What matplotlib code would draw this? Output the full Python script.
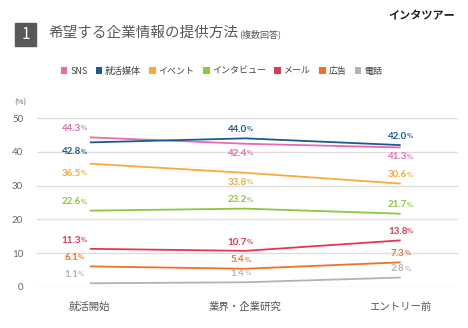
import matplotlib.pyplot as plt
from matplotlib.patches import Patch, Rectangle

plt.rcParams['font.family'] = ['Noto Sans CJK JP', 'DejaVu Sans']

stages = ["就活開始", "業界・企業研究", "エントリー前"]
series_names = ["SNS", "就活媒体", "イベント", "インタビュー", "メール", "広告", "電話"]
sns_vals = [44.3, 42.4, 41.3]
media_vals = [42.8, 44.0, 42.0]
event_vals = [36.5, 33.8, 30.6]
interview_vals = [22.6, 23.2, 21.7]
mail_vals = [11.3, 10.7, 13.8]
ad_vals = [6.1, 5.4, 7.3]
phone_vals = [1.1, 1.4, 2.8]
yticks = [0, 10, 20, 30, 40, 50]

all_vals = [sns_vals, media_vals, event_vals, interview_vals, mail_vals, ad_vals, phone_vals]
colors = ["#ec6aab", "#1b5a94", "#f6aa3c", "#8dc641", "#e83450", "#f07127", "#b3b3b3"]
# label above (1) or below (-1) the point
placement = [
    [1, -1, -1],
    [-1, 1, 1],
    [-1, -1, 1],
    [1, 1, 1],
    [1, 1, 1],
    [1, 1, 1],
    [1, 1, 1],
]
x_shift = [-0.09, -0.02, 0.01]

fig = plt.figure(figsize=(4.68, 3.28), dpi=100)
ax = fig.add_axes([0.079, 0.125, 0.9, 0.515])

for vals, c, pl in zip(all_vals, colors, placement):
    ax.plot(range(3), vals, color=c, lw=1.3, solid_capstyle='butt', zorder=3)
    for i, v in enumerate(vals):
        dy = 2.6 if pl[i] > 0 else -2.8
        t = ax.text(i + x_shift[i] - 0.03, v + dy, f"{v:.1f}", color=c, fontsize=7,
                    family=['Lato', 'DejaVu Sans'], fontweight='bold',
                    ha='center', va='center', zorder=4)
        ax.annotate("%", xy=(1.0, 0.18), xycoords=t, fontsize=4.5, color=c,
                    fontweight='bold', ha='left', va='bottom')

ax.set_xlim(-0.34, 2.37)
ax.set_ylim(0, 50)
ax.set_yticks(yticks)
for y in yticks:
    ax.axhline(y, color="#dddddd", lw=1, zorder=1)
ax.set_xticks(range(3))
ax.set_xticklabels(stages, fontsize=7.5, color="#555555")
ax.tick_params(axis='x', length=0, pad=11)
ax.tick_params(axis='y', length=0, pad=10, labelsize=7, labelcolor="#666666")
for s in ax.spines.values():
    s.set_visible(False)
for lab in ax.get_yticklabels():
    lab.set_family(['Lato', 'DejaVu Sans'])
ax.text(-0.45, 54.5, "(%)", fontsize=5.5, color="#666666", ha='center', va='center',
        transform=ax.transData, clip_on=False)

# title block
fig.patches.append(Rectangle((15 / 468, 1 - 46 / 328), 21 / 468, 23 / 328,
                             transform=fig.transFigure, color="#595757"))
fig.text(25.5 / 468, 1 - 34.5 / 328, "1", color="white", fontsize=11, ha='center', va='center')
fig.text(48 / 468, 1 - 33 / 328, "希望する企業情報の提供方法", color="#595757",
         fontsize=10.5, ha='left', va='center')
fig.text(239 / 468, 1 - 34 / 328, "(複数回答)", color="#595757", fontsize=6.5,
         ha='left', va='center')
fig.text(455 / 468, 1 - 16 / 328, "インタツアー", color="#222222", fontsize=8,
         fontweight='bold', ha='right', va='center')

handles = [Patch(facecolor=c, edgecolor='none') for c in colors]
fig.legend(handles, series_names, loc='center', bbox_to_anchor=(0.473, 1 - 71 / 328),
           ncol=7, frameon=False, fontsize=6.5, handlelength=0.75, handleheight=0.75,
           handletextpad=0.3, columnspacing=0.9, labelcolor="#444444")

fig.savefig("out.png", dpi=100)
